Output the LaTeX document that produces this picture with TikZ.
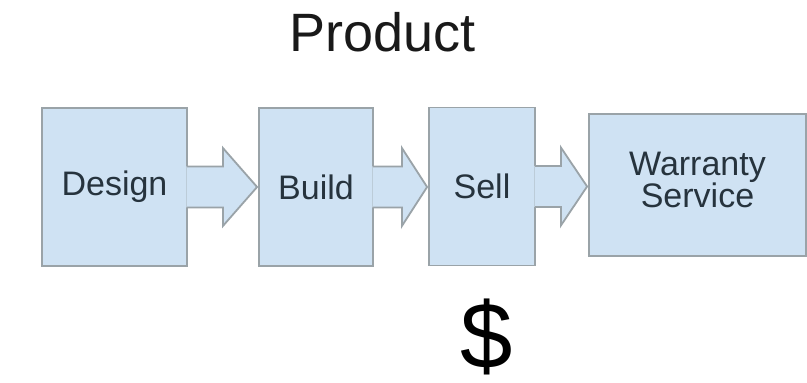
\documentclass[tikz,border=0pt]{standalone}
\usepackage{fontspec}
\setmainfont{Liberation Sans}
\usetikzlibrary{calc}
\definecolor{boxfill}{HTML}{CFE2F3}
\definecolor{boxline}{HTML}{9AA3A8}
\definecolor{boxtext}{HTML}{26333D}
\newcommand\flowarrow[4]{%
  % #1 from node, #2 to node, #3 head start offset, #4 name
  \coordinate (#4tip) at ($(#2.west |- #1.east)+(-1,0)$);
  \coordinate (#4hs) at ($(#1.east)+(#3,0)$);
  \fill[boxfill] ($(#1.east)+(-1.6,20.5)$) -- ($(#4hs)+(0,20.5)$) -- ($(#4hs)+(0,39)$)
     -- (#4tip) -- ($(#4hs)+(0,-39)$) -- ($(#4hs)+(0,-20.5)$) -- ($(#1.east)+(-1.6,-20.5)$) -- cycle;
  \draw[arrowline] ($(#1.east)+(-0.9,20.5)$) -- ($(#4hs)+(0,20.5)$) -- ($(#4hs)+(0,39)$)
     -- (#4tip) -- ($(#4hs)+(0,-39)$) -- ($(#4hs)+(0,-20.5)$) -- ($(#1.east)+(-0.9,-20.5)$);
}
\begin{document}
\begin{tikzpicture}[x=1pt,y=1pt,
  stage/.style={draw=boxline,fill=boxfill,line width=1.8pt,minimum height=158pt,
    inner sep=0pt,font=\fontsize{34}{31}\selectfont,align=center,text=boxtext},
  arrowline/.style={draw=boxline,line width=1.8pt,line join=miter},
  label/.style={font=\fontsize{34}{31}\selectfont,align=center,text=boxtext}]
\useasboundingbox (0,0) rectangle (807,383);
\fill[white] (0,0) rectangle (807,383);
\node[font=\fontsize{54}{60}\selectfont,anchor=base,inner sep=0pt,text=black!90] (title) at (382.5,331) {Product};
\node[stage,minimum width=145pt] (design) at (114.5,196) {Design};
\node[stage,minimum width=114pt] (build) at (316,196) {Build};
\node[stage,minimum width=106pt] (sell) at (482,196.5) {Sell};
\node[stage,minimum width=217pt,minimum height=142pt] (warranty) at (697.5,198) {};
\node[label] (wtext) at ($(warranty.center)+(0,5)$) {Warranty\\Service};
\flowarrow{design}{build}{35}{a}
\flowarrow{build}{sell}{28}{b}
\flowarrow{sell}{warranty}{25}{c}
\node[font=\fontsize{94}{100}\selectfont,anchor=base,inner sep=0pt,text=black] (dollar) at (487,14) {\$};
\end{tikzpicture}
\end{document}
